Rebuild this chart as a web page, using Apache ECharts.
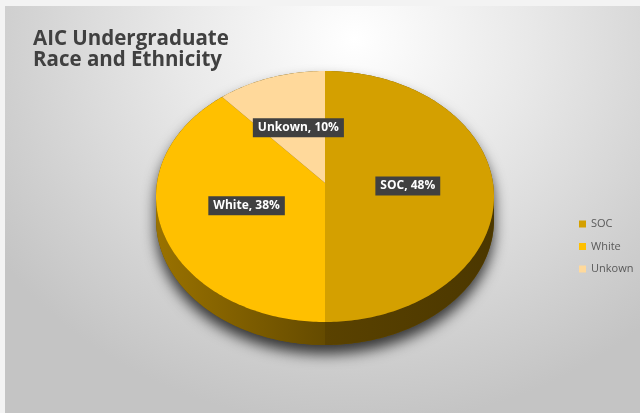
<!DOCTYPE html>
<html><head><meta charset="utf-8">
<script src="https://cdn.jsdelivr.net/npm/echarts@6/dist/echarts.min.js"></script>
<style>
html,body{margin:0;padding:0;background:#f3f3f3;width:640px;height:413px;overflow:hidden;}
#bg{position:absolute;left:5px;top:6px;width:635px;height:407px;
 background:radial-gradient(ellipse 68% 95% at 55% 8%, #ffffff 0%, #e9e9e9 40%, #d0d0d0 80%, #c4c4c4 100%);}
#c{position:absolute;left:0;top:0;width:640px;height:413px;}
</style>
</head><body><div id="bg"></div><div id="c"></div>
<script>
// ---- data ----
const categories = ['SOC', 'White', 'Unkown'];
const values = [48, 38, 10];
const titleLines = ['AIC Undergraduate', 'Race and Ethnicity'];
// ---- styles ----
const topColors = ['#D4A000', '#FFC000', '#FFD99B'];
const sideColors = [['#5a4200', '#4b3700'], ['#9a7200', '#654b00'], ['#c9a86a', '#a88850']];
const P = {cx: 325, cy: 196.5, hubY: 183, rx: 169, ry: 125.5, depth: 23, labelY: 186, labelF: 0.49};

const total = values.reduce((a, b) => a + b, 0);
const starts = [];
let acc = 0;
values.forEach(v => { starts.push(acc / total * 360); acc += v; });

function arcPt(deg, dy) {
  const t = deg * Math.PI / 180;
  return [P.cx + P.rx * Math.sin(t), P.cy - P.ry * Math.cos(t) + (dy || 0)];
}
function arcRange(a, b, dy) {
  const pts = [];
  const n = Math.max(2, Math.ceil(Math.abs(b - a)));
  for (let k = 0; k <= n; k++) pts.push(arcPt(a + (b - a) * k / n, dy));
  return pts;
}

function sliceSeries(i) {
  return {
    type: 'custom',
    name: categories[i],
    coordinateSystem: 'none',
    itemStyle: {color: topColors[i]},
    data: [values[i]],
    silent: true,
    renderItem: function (params, api) {
      const v = api.value(0);
      const s = starts[i], e = s + v / total * 360;
      const children = [];
      if (i === 0) {
        const sil = arcRange(-90, 90, 0).concat(arcRange(90, 270, P.depth));
        children.push({
          type: 'polygon', shape: {points: sil},
          style: {fill: '#6a5000', shadowBlur: 14, shadowColor: 'rgba(0,0,0,0.75)', shadowOffsetY: 9}
        });
      }
      const a = Math.max(s, 90), b = Math.min(e, 270);
      if (b > a) {
        const side = arcRange(a, b, 0).concat(arcRange(b, a, P.depth));
        children.push({
          type: 'polygon', shape: {points: side},
          style: {fill: {type: 'linear', x: 0, y: 0, x2: 1, y2: 0,
            colorStops: [{offset: 0, color: sideColors[i][0]}, {offset: 1, color: sideColors[i][1]}]}}
        });
      }
      const top = [[P.cx, P.hubY]].concat(arcRange(s, e, 0));
      children.push({type: 'polygon', shape: {points: top}, style: {fill: topColors[i]}});
      const mid = (s + e) / 2 * Math.PI / 180;
      children.push({
        type: 'text',
        x: P.cx + P.labelF * P.rx * Math.sin(mid),
        y: P.labelY - P.labelF * P.ry * Math.cos(mid),
        style: {
          text: categories[i] + ', ' + v + '%',
          align: 'center', verticalAlign: 'middle',
          fill: '#ffffff', font: 'bold 12px "Open Sans"',
          backgroundColor: '#404040', padding: [4, 5, 3, 5],
          boxShadowColor: 'rgba(0,0,0,0.45)', boxShadowBlur: 3, boxShadowOffsetX: 1, boxShadowOffsetY: 1
        },
        z2: 10
      });
      return {type: 'group', children: children};
    }
  };
}

const chart = echarts.init(document.getElementById('c'), null, {renderer: 'canvas'});
chart.setOption({
  animation: false,
  backgroundColor: 'transparent',
  title: {
    text: titleLines.join('\n'),
    left: 28, top: 23,
    textStyle: {fontFamily: 'Open Sans', fontWeight: 'bold', fontSize: 20.5, lineHeight: 21.5, color: '#404040'}
  },
  legend: {
    orient: 'vertical', left: 579, top: 217, padding: 0,
    icon: 'rect', itemWidth: 7, itemHeight: 7, itemGap: 8.5,
    selectedMode: false,
    textStyle: {fontFamily: 'Open Sans', fontSize: 11, color: '#595959', lineHeight: 14},
    data: categories
  },
  series: categories.map((c, i) => sliceSeries(i))
});
</script>
</body></html>
